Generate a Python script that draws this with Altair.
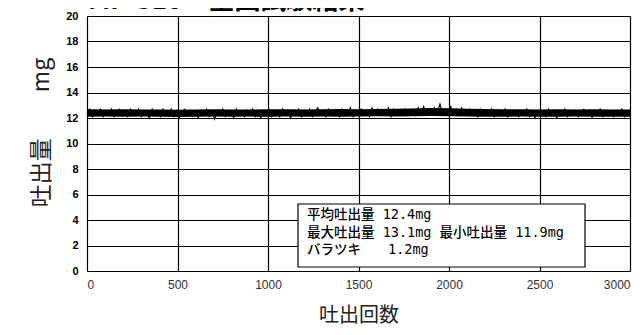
import altair as alt
import pandas as pd

# discharge amount per shot (sampled every 15 shots), mg
amounts = [
    12.3,12.7,12.1,12.6,12.4,12.7,12.1,12.6,12.2,12.7,12.1,12.5,12.7,12.2,12.6,12.1,12.7,12.3,12.2,12.7,
    12.1,12.6,12.4,12.0,12.7,12.2,12.6,12.1,12.7,12.3,12.2,12.7,12.1,12.6,12.0,12.5,12.7,12.2,12.6,12.1,
    12.5,12.0,12.6,12.2,12.7,12.1,12.5,11.9,12.6,12.2,12.7,12.1,12.5,12.6,12.0,12.7,12.2,12.5,12.1,12.6,
    12.2,12.7,12.1,12.5,12.0,12.6,12.2,12.7,12.1,12.5,12.6,12.1,12.7,12.2,12.5,12.0,12.6,12.2,12.7,12.1,
    12.6,12.2,12.7,12.1,12.5,12.8,12.2,12.6,12.1,12.7,12.3,12.2,12.6,12.1,12.7,12.3,12.2,12.8,12.1,12.6,
    12.3,12.7,12.2,12.6,12.1,12.8,12.3,12.7,12.2,12.6,12.3,12.8,12.1,12.7,12.3,12.6,12.2,12.7,12.3,12.6,
    12.7,12.2,12.8,12.3,12.9,12.4,12.7,12.3,12.8,12.4,13.1,12.3,12.7,12.4,12.9,12.3,12.7,12.2,12.8,12.4,
    12.3,12.7,12.2,12.6,12.1,12.7,12.3,12.6,12.2,12.7,12.1,12.6,12.3,12.2,12.7,12.1,12.6,12.2,12.5,12.1,
    12.6,12.2,12.7,12.1,12.5,12.0,12.6,12.2,12.5,12.1,12.7,12.2,12.6,12.0,12.5,12.2,12.7,12.1,12.5,12.2,
    12.6,12.1,12.5,12.7,12.2,12.6,12.0,12.5,12.2,12.7,12.1,12.6,12.2,12.5,12.1,12.6,12.2,12.7,12.1,12.5,
]
step = 15
shots = [i * step for i in range(len(amounts))]

# dense core of the trace, every 100 shots
band_x = [i * 100 for i in range(31)]
band_lo = [12.10,12.12,12.09,12.11,12.10,12.08,12.10,12.12,12.09,12.11,12.10,12.11,12.09,12.12,12.10,12.11,
           12.13,12.12,12.14,12.15,12.13,12.11,12.10,12.09,12.11,12.10,12.09,12.11,12.10,12.09,12.10]
band_hi = [12.68,12.66,12.69,12.67,12.66,12.64,12.66,12.68,12.66,12.67,12.69,12.68,12.66,12.68,12.70,12.69,
           12.71,12.72,12.74,12.78,12.76,12.72,12.70,12.68,12.69,12.67,12.68,12.66,12.68,12.66,12.67]

x_ticks = [0, 500, 1000, 1500, 2000, 2500, 3000]
y_ticks = [0, 2, 4, 6, 8, 10, 12, 14, 16, 18, 20]

title_text = "MP-310　全回試験結果"
note_lines = ["平均吐出量 12.4mg", "最大吐出量 13.1mg 最小吐出量 11.9mg", "バラツキ　　1.2mg"]

df = pd.DataFrame({"shot": shots, "amount": amounts})
band_df = pd.DataFrame({"shot": band_x, "lo": band_lo, "hi": band_hi})

W, H = 543, 255

xscale = alt.Scale(domain=[0, 3000], nice=False)
yscale = alt.Scale(domain=[0, 20], nice=False)

xaxis = alt.Axis(values=x_ticks, format="d", title="吐出回数", grid=True, gridColor="black",
                 gridWidth=1.2, gridOpacity=1, tickSize=0, domain=False, labelOverlap=False,
                 labelFont="Liberation Sans", labelFontSize=12, labelColor="#333",
                 labelPadding=8, titleFont="Noto Sans CJK JP", titleFontSize=20,
                 titleFontWeight="normal", titleColor="#222", titlePadding=15)
yaxis = alt.Axis(values=y_ticks, title="吐出量　　mg", grid=True, gridColor="black",
                 gridWidth=1.2, gridOpacity=1, tickSize=0, domain=False, labelOverlap=False,
                 labelFont="Liberation Sans", labelFontSize=11, labelFontWeight="bold",
                 labelColor="black", labelPadding=9, titleFont="Noto Sans CJK JP",
                 titleFontSize=23, titleFontWeight="normal", titleColor="#222",
                 titlePadding=12, titleY=116)

line = alt.Chart(df).mark_line(color="black", strokeWidth=1.1).encode(
    x=alt.X("shot:Q", scale=xscale, axis=xaxis),
    y=alt.Y("amount:Q", scale=yscale, axis=yaxis),
)

band = alt.Chart(band_df).mark_area(color="black", opacity=1, interpolate="linear").encode(
    x=alt.X("shot:Q", scale=xscale, axis=xaxis),
    y=alt.Y("lo:Q", scale=yscale, axis=yaxis),
    y2="hi:Q",
)

box_df = pd.DataFrame({"k": [0]})
box = alt.Chart(box_df).mark_rect(fill="white", stroke="black", strokeWidth=1.2).encode(
    x=alt.value(211), x2=alt.value(498), y=alt.value(188), y2=alt.value(251)
)

note_layers = []
for i, t in enumerate(note_lines):
    note_layers.append(
        alt.Chart(pd.DataFrame({"text": [t]})).mark_text(
            align="left", baseline="middle", font="DejaVu Sans Mono, Noto Sans CJK JP",
            fontSize=13.5, fontWeight=500, color="black"
        ).encode(x=alt.value(220), y=alt.value(199 + 17.5 * i), text="text:N")
    )

title = alt.Chart(pd.DataFrame({"t": [title_text]})).mark_text(
    align="left", baseline="bottom", font="Noto Sans CJK JP", fontSize=26, fontWeight="bold",
    color="black"
).encode(x=alt.value(1), y=alt.value(-2), text="t:N")

chart = alt.layer(line, band, box, *note_layers, title).properties(
    width=W, height=H,
    autosize=alt.AutoSizeParams(type="none"),
    padding={"left": 79, "top": 8, "right": 6, "bottom": 56},
).configure_view(stroke="black", strokeWidth=1.5).configure(background="white")

chart.save("out.html", embed_options={"renderer": "svg", "actions": False})
